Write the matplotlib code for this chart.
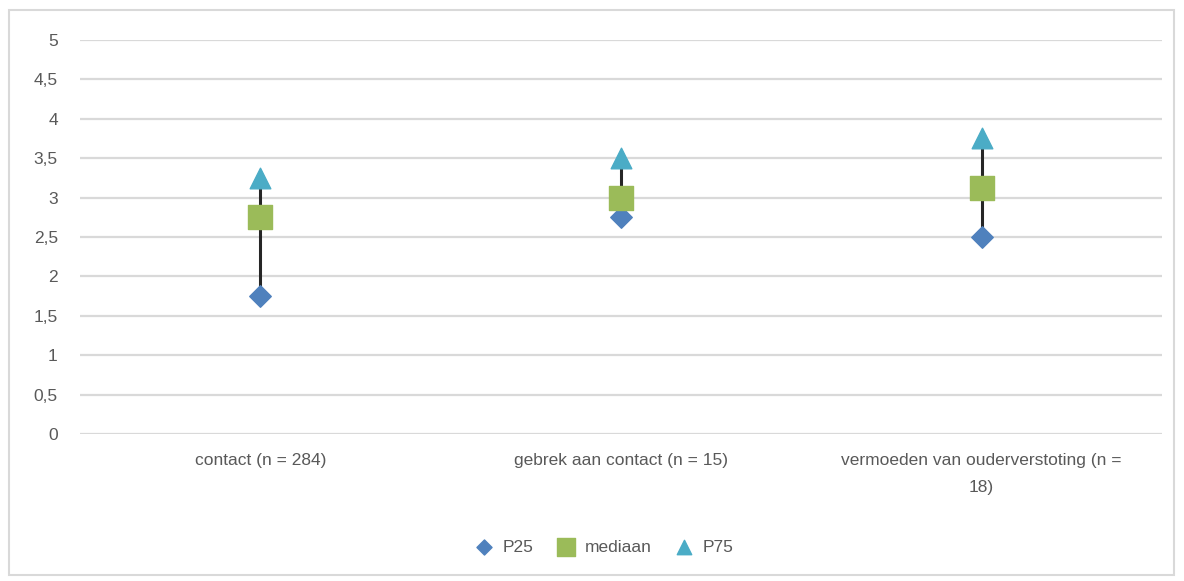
import matplotlib
matplotlib.use("Agg")
import matplotlib.pyplot as plt
import numpy as np

categories = ["contact (n = 284)", "gebrek aan contact (n = 15)",
              "vermoeden van ouderverstoting (n =\n18)"]
p25 = [1.75, 2.75, 2.5]
mediaan = [2.75, 3.0, 3.125]
p75 = [3.25, 3.5, 3.75]

plt.rcParams['font.family'] = ['Liberation Sans', 'DejaVu Sans']
txt = "#595959"

fig = plt.figure(figsize=(11.84, 5.81), dpi=100)
ax = fig.add_axes([80 / 1184, 1 - 434 / 581, 1082 / 1184, 394 / 581])

x = np.arange(len(categories))
ax.vlines(x, p25, p75, color="#262626", lw=2.2, zorder=2)
ax.scatter(x, p25, marker="D", s=120, color="#4F81BD", label="P25", zorder=3)
ax.scatter(x, mediaan, marker="s", s=320, color="#9BBB59", label="mediaan", zorder=3)
ax.scatter(x, p75, marker="^", s=220, color="#4BACC6", label="P75", zorder=3)

ax.set_xlim(-0.5, 2.5)
ax.set_ylim(0, 5)
ax.set_yticks(np.arange(0, 5.01, 0.5))
ax.set_yticklabels([f"{v:g}".replace(".", ",") for v in np.arange(0, 5.01, 0.5)])
ax.set_xticks(x)
ax.set_xticklabels(categories, ha="center", multialignment="center", linespacing=2.0)
ax.tick_params(length=0, colors=txt, labelsize=12.5)
ax.tick_params(axis="y", pad=16)
ax.tick_params(axis="x", pad=14)
ax.grid(axis="y", color="#D9D9D9", lw=1.6)
ax.set_axisbelow(True)
for s in ax.spines.values():
    s.set_visible(False)

leg = fig.legend(loc="center", bbox_to_anchor=(600 / 1184, 1 - 547 / 581), ncol=3,
                 frameon=False, fontsize=12.5, handletextpad=0.05, columnspacing=0.9,
                 markerscale=0.7)
for t in leg.get_texts():
    t.set_color(txt)

fig.patches.append(plt.Rectangle((9 / 1184, 1 - 575 / 581), 1165 / 1184, 565 / 581,
                                 transform=fig.transFigure, fill=False,
                                 edgecolor="#D9D9D9", lw=1.5))

fig.savefig("out.png", dpi=100)
